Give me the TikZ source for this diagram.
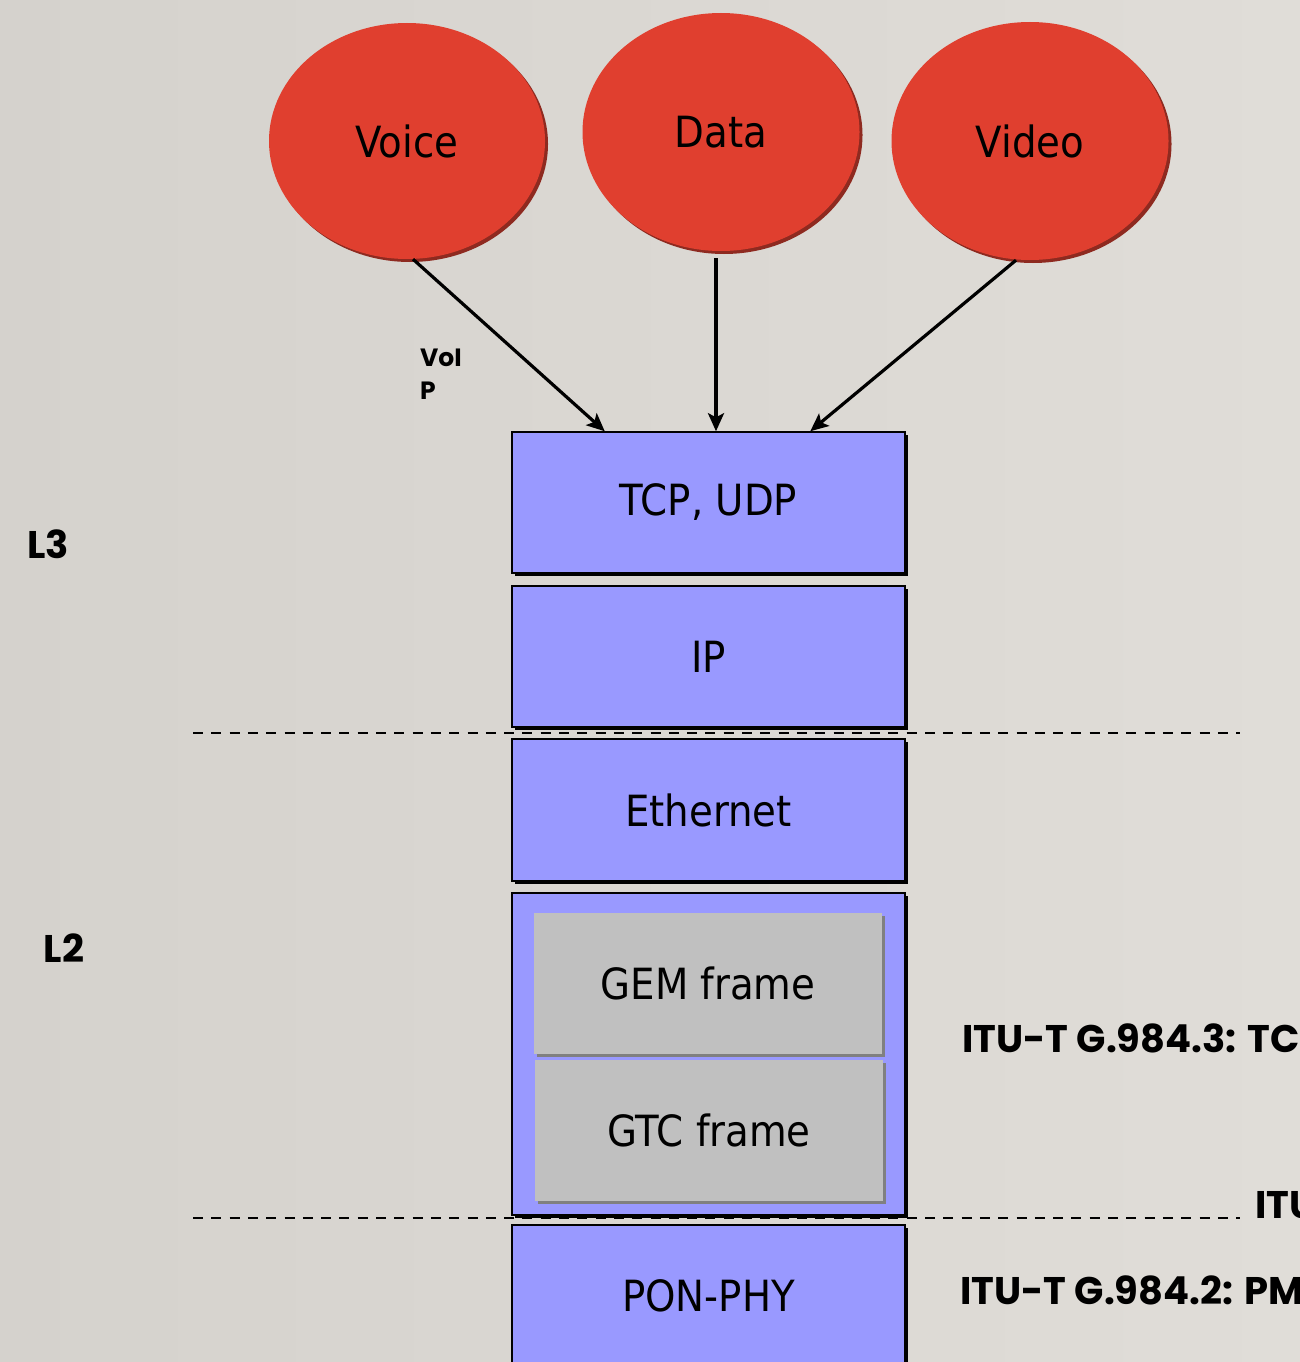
\documentclass[tikz,border=0pt]{standalone}
\usepackage{fontspec}
\setmainfont{DejaVu Sans Condensed}
\newfontfamily\tagfont{Poppins}
\usetikzlibrary{shapes.geometric,shadows,arrows.meta,calc}

\definecolor{bgleft}{HTML}{D5D2CD}
\definecolor{bgright}{HTML}{E0DDD8}
\definecolor{svcred}{HTML}{E03F2F}
\definecolor{svcshadow}{HTML}{8E2A20}
\definecolor{layerblue}{HTML}{9999FF}
\definecolor{framegrey}{HTML}{C0C0C0}
\definecolor{frameshadow}{HTML}{808080}

\tikzset{
  bigtext/.style={font=\fontsize{43}{50}\selectfont},
  service/.style={ellipse, fill=svcred, inner sep=0pt, bigtext,
    drop shadow={shadow xshift=3pt, shadow yshift=-3pt, fill=svcshadow, opacity=1}},
  layer/.style={rectangle, draw=black, line width=1.5pt, fill=layerblue,
    minimum width=393pt, inner sep=0pt, bigtext,
    drop shadow={shadow xshift=3pt, shadow yshift=-3pt, fill=black, opacity=1}},
  framebox/.style={rectangle, fill=framegrey, minimum width=348pt,
    minimum height=141pt, inner sep=0pt, bigtext,
    drop shadow={shadow xshift=3pt, shadow yshift=-3pt, fill=frameshadow, opacity=1}},
  flow/.style={line width=3.2pt, -{Stealth[length=18pt, width=16pt, inset=4pt]}},
  boundary/.style={line width=2.4pt, dash pattern=on 10pt off 8.3pt},
  tag/.style={font=\tagfont\bfseries\fontsize{38.5}{44}\selectfont, inner sep=0pt},
}

\begin{document}
\begin{tikzpicture}[x=1pt, y=-1pt]
  % page and background
  \useasboundingbox (0,0) rectangle (1300,1362);
  \fill[left color=bgleft, right color=bgright] (0,0) rectangle (1300,1362);
  \clip (0,0) rectangle (1300,1362);

  % services
  \node[service, minimum width=276pt, minimum height=236pt] (voice) at (407,141) {Voice};
  \node[service, minimum width=277pt, minimum height=238pt] (data)  at (721,132) {Data};
  \node[service, minimum width=277pt, minimum height=238pt] (video) at (1030,141) {Video};

  % protocol stack
  \node[layer, minimum height=141pt] (tcp)  at (708.5,502.5) {TCP, UDP};
  \node[layer, minimum height=141pt] (ip)   at (708.5,656.5) {IP};
  \node[layer, minimum height=142pt] (eth)  at (708.5,810)   {Ethernet};
  \node[layer, minimum height=322pt] (gpon) at (708.5,1054)  {};
  \node[framebox] (gem) at (708,983.5)  {GEM frame};
  \node[framebox] (gtc) at (709,1130.5) {GTC frame};
  \node[layer, minimum height=141pt] (phy)  at (708.5,1295.5) {PON-PHY};

  % traffic into the transport layer
  \coordinate (dataout) at ($(data.south)+(-5,7)$);
  \draw[flow] ($(voice.south)+(6,0)$) -- ($(tcp.north west)!0.237!(tcp.north east)$);
  \draw[flow] (dataout) -- (dataout |- tcp.north);
  \draw[flow] ($(video.south)+(-14,0)$) -- ($(tcp.north west)!0.758!(tcp.north east)$);

  % layer boundaries
  \coordinate (b3w) at (193,733);  \coordinate (b3e) at (1240,733);
  \coordinate (b2w) at (193,1218); \coordinate (b2e) at (1240,1218);
  \draw[boundary] (b3w) -- (b3e);
  \draw[boundary] (b2w) -- (b2e);

  % labels
  \node[tag] (l3) at (48,544) {L3};
  \node[tag] (l2) at (64,948) {L2};
  \node[tag, font=\tagfont\bfseries\fontsize{25}{33}\selectfont, anchor=north west,
        align=left] (voip) at (420,349) {VoI\\P};
  \node[tag, anchor=west] (tc)  at (962,1038) {ITU-T G.984.3: TC};
  \node[tag, anchor=west] (itu) at (1255,1205) {ITU};
  \node[tag, anchor=west] (pmd) at (960,1290) {ITU-T G.984.2: PM};
\end{tikzpicture}
\end{document}
